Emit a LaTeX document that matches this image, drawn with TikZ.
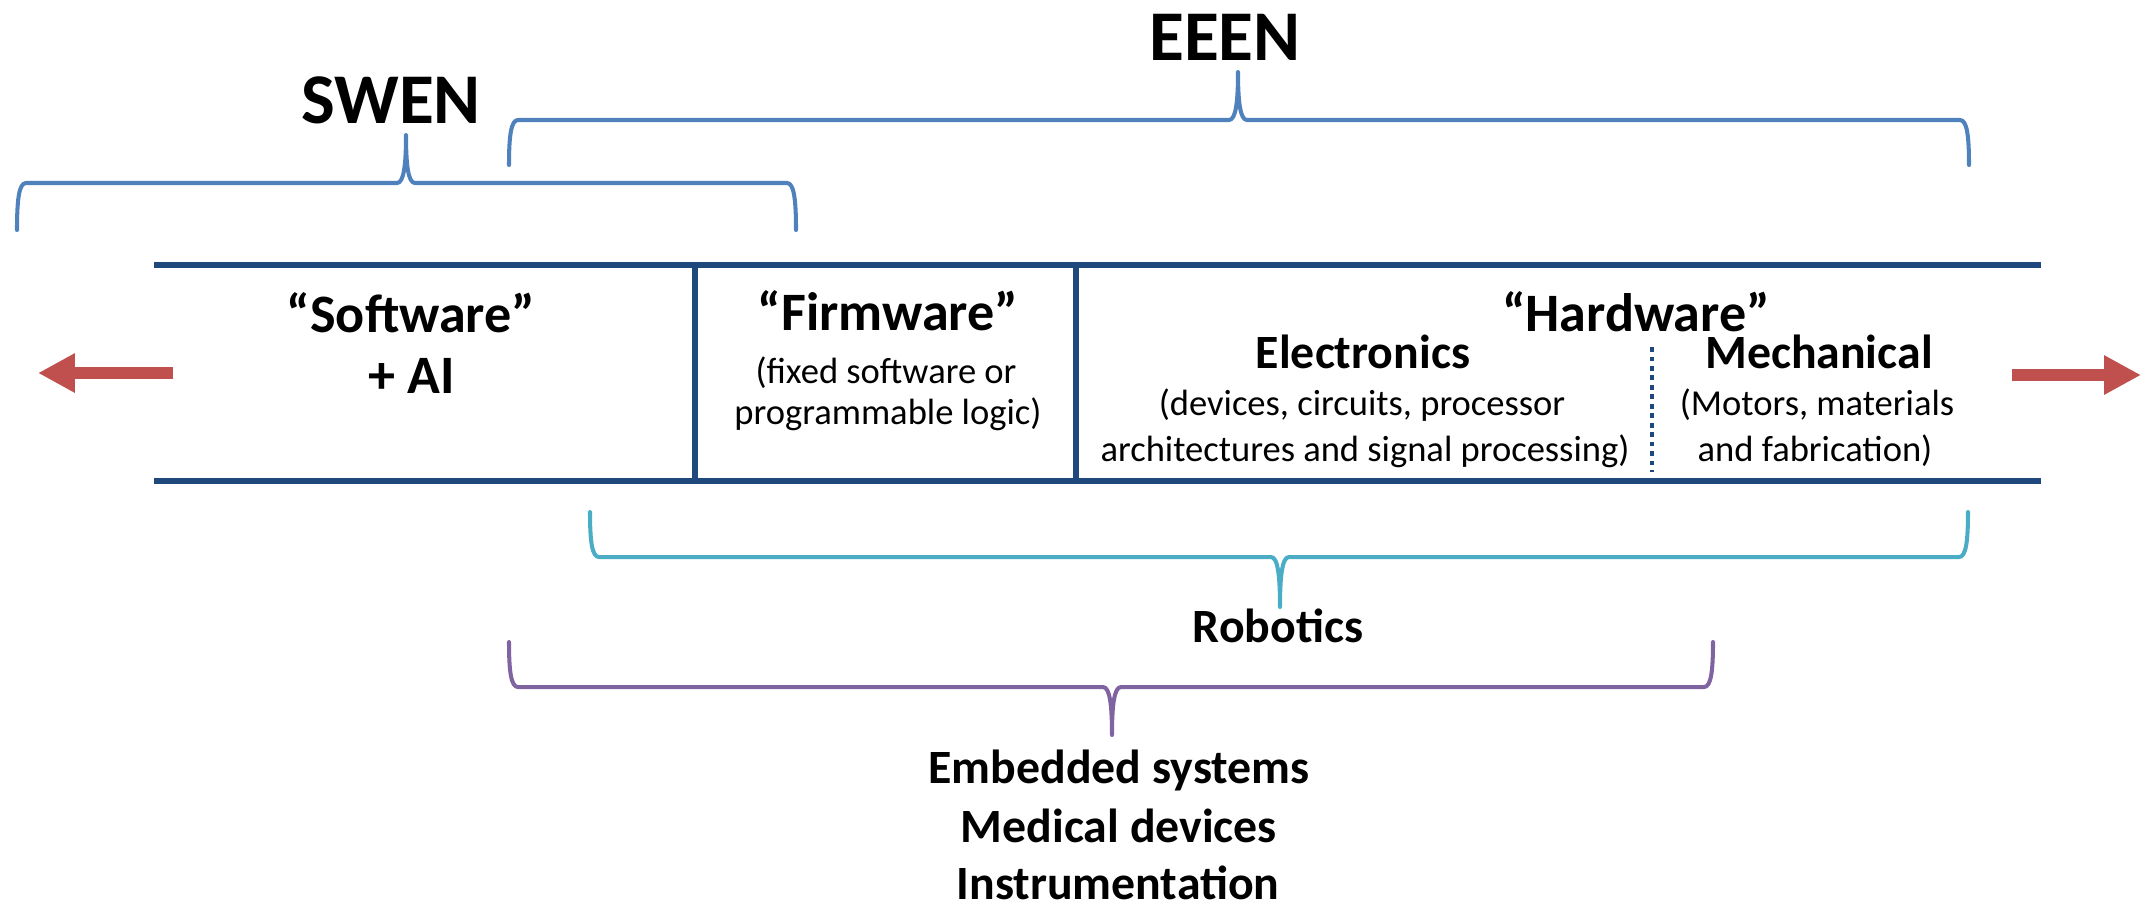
\documentclass[tikz,border=0pt]{standalone}
\usepackage{fontspec}
\setmainfont{Carlito}
\usetikzlibrary{arrows.meta}

\definecolor{braceblue}{HTML}{4F81BD}
\definecolor{bracecyan}{HTML}{4BACC6}
\definecolor{bracepurple}{HTML}{8064A2}
\definecolor{boxnavy}{HTML}{1F497D}
\definecolor{arrowred}{HTML}{C0504D}

\tikzset{
  titletext/.style = {font=\fontsize{20.3}{24}\selectfont\bfseries, anchor=base, inner sep=0pt},
  headtext/.style  = {font=\fontsize{15.4}{18}\selectfont\bfseries, anchor=base, inner sep=0pt},
  subtext/.style   = {font=\fontsize{13.6}{16}\selectfont\bfseries, anchor=base, inner sep=0pt},
  notetext/.style  = {font=\fontsize{10.4}{12}\selectfont, anchor=base, inner sep=0pt},
  bracestroke/.style = {line width=1.15pt, line join=round, line cap=round},
  boxline/.style   = {line width=1.5pt, color=boxnavy},
  spread/.style    = {line width=3.4pt, color=arrowred, -{Triangle[width=10.5pt, length=10.5pt]}},
}

% colour, left x, tip x, right x, end y, bar y, tip y
\newcommand{\officebrace}[7]{%
  \draw[bracestroke, #1] (#2, #5)
    .. controls (#2, {#6+0.35*(#5-#6)}) and ({#2+2}, #6) .. ({#2+9}, #6)
    -- ({#3-9}, #6)
    .. controls ({#3-2}, #6) and (#3, {#6+0.4*(#7-#6)}) .. (#3, #7)
    .. controls (#3, {#6+0.4*(#7-#6)}) and ({#3+2}, #6) .. ({#3+9}, #6)
    -- ({#4-9}, #6)
    .. controls ({#4-2}, #6) and (#4, {#6+0.35*(#5-#6)}) .. (#4, #5);}

\begin{document}
\begin{tikzpicture}[x=0.1mm, y=-0.1mm]
  \useasboundingbox (0, 0) rectangle (2142, 907);

  % upper braces
  \officebrace{braceblue}{17}{406}{796}{230}{183}{135}
  \officebrace{braceblue}{509}{1238}{1969}{165}{120}{72}
  \node[titletext] (swen) at (391, 123) {SWEN};
  \node[titletext] (eeen) at (1225, 60) {EEEN};

  % the band
  \draw[boxline] (154, 265) -- (2041, 265);
  \draw[boxline] (154, 481) -- (2041, 481);
  \draw[boxline] (695, 265) -- (695, 481);
  \draw[boxline] (1076, 265) -- (1076, 481);
  \draw[boxline, line width=1.4pt, dash pattern=on 1.3pt off 1.4pt] (1652, 347) -- (1652, 472);

  % arrows out of the band
  \coordinate (lefttail) at (173, 373);
  \coordinate (lefttip) at (38, 373);
  \coordinate (righttail) at (2012, 375);
  \coordinate (righttip) at (2141, 375);
  \draw[spread] (lefttail) -- (lefttip);
  \draw[spread] (righttail) -- (righttip);

  % software
  \node[headtext] (software) at (411, 332) {“Software”};
  \node[headtext] (ai) at (412, 393) {+ AI};

  % firmware
  \node[headtext] (firmware) at (888, 330) {“Firmware”};
  \node[notetext] (fwone) at (886, 383) {(fixed software or};
  \node[notetext] (fwtwo) at (888, 424) {programmable logic)};

  % hardware
  \node[headtext] (hardware) at (1636, 331) {“Hardware”};
  \node[subtext] (electronics) at (1363, 368) {Electronics};
  \node[notetext] (elone) at (1362, 415) {(devices, circuits, processor};
  \node[notetext] (eltwo) at (1365, 461) {architectures and signal processing)};
  \node[subtext] (mechanical) at (1819, 368) {Mechanical};
  \node[notetext] (meone) at (1817, 415) {(Motors, materials};
  \node[notetext] (metwo) at (1815, 461) {and fabrication)};

  % lower braces
  \officebrace{bracecyan}{590}{1280}{1968}{512}{557}{607}
  \node[subtext] (robotics) at (1278, 642) {Robotics};
  \officebrace{bracepurple}{509}{1112}{1713}{642}{687}{735}
  \node[subtext] (embedded) at (1119, 783) {Embedded systems};
  \node[subtext] (medical) at (1119, 842) {Medical devices};
  \node[subtext] (instr) at (1118, 899) {Instrumentation};
\end{tikzpicture}
\end{document}
